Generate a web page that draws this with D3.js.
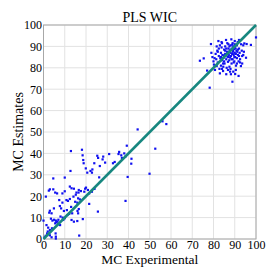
<!DOCTYPE html>
<html>
<head>
<meta charset="utf-8">
<script src="https://cdn.jsdelivr.net/npm/d3@7"></script>
<style>
  html, body { margin: 0; padding: 0; background: #fff; }
  text { font-family: 'Liberation Serif', 'DejaVu Serif', serif; fill: #000; }
</style>
</head>
<body>
<svg id="chart" width="277" height="277"></svg>
<script>
// --- data ---
const title = 'PLS WIC';
const xLabel = 'MC Experimental';
const yLabel = 'MC Estimates';
const xTicks = [0, 10, 20, 30, 40, 50, 60, 70, 80, 90, 100];
const yTicks = [0, 10, 20, 30, 40, 50, 60, 70, 80, 90, 100];

// [experimental, estimate] pairs, low group
const lowGroup = [
  [12.9, 41.1], [18.1, 41.7], [44.3, 51.2], [56.0, 55.0], [57.8, 53.7], [52.6, 42.2],
  [39.2, 43.6], [49.9, 30.5], [39.6, 29.0], [38.6, 17.8], [25.6, 12.8], [16.8, 1.6],
  [35.6, 40.7], [35.3, 39.7], [36.6, 39.1], [36.9, 37.9], [41.4, 37.5], [41.3, 35.2],
  [38.5, 38.5], [30.9, 39.7], [28.1, 38.5], [27.8, 37.2], [25.3, 38.9], [25.7, 37.9],
  [29.0, 35.7], [32.7, 35.4], [26.5, 34.1], [23.9, 35.4], [18.7, 36.9], [18.9, 35.4],
  [18.4, 39.1], [22.1, 31.8], [20.6, 31.0], [22.8, 31.0], [19.9, 33.0], [26.2, 28.8],
  [12.7, 31.8], [10.0, 28.7], [4.6, 28.3], [3.0, 23.2], [2.5, 22.6], [1.1, 19.8],
  [0.0, 8.6], [4.6, 23.2], [5.5, 21.7], [6.4, 21.3], [8.9, 21.3], [10.0, 22.3],
  [12.4, 24.5], [13.2, 23.7], [14.3, 23.5], [15.5, 21.7], [15.2, 20.7], [16.5, 21.7],
  [16.6, 22.9], [17.6, 22.4], [19.2, 22.1], [19.6, 23.5], [20.9, 22.9], [21.5, 21.3],
  [22.8, 22.1], [24.0, 23.4], [21.5, 16.4], [10.8, 18.2], [11.5, 17.8], [12.4, 18.7],
  [7.4, 18.2], [8.9, 17.0], [7.7, 15.4], [8.3, 14.3], [9.6, 13.1], [4.9, 14.3],
  [3.0, 13.2], [2.7, 12.3], [3.8, 12.0], [5.0, 9.0], [4.2, 8.6], [5.8, 8.6],
  [6.6, 8.1], [5.5, 7.3], [6.9, 6.9], [7.8, 6.5], [9.3, 8.9], [10.0, 9.7],
  [12.1, 11.7], [11.3, 11.2], [13.5, 12.0], [13.2, 8.9], [14.3, 8.1], [15.9, 8.4],
  [16.6, 14.0], [16.3, 12.0], [16.0, 13.1], [18.5, 9.3], [1.4, 6.5], [2.2, 5.3],
  [3.0, 4.2], [1.7, 2.6], [3.0, 1.7], [5.7, 2.6], [5.8, 1.1], [5.8, 0.2],
  [3.8, 0.8], [0.6, 0.8], [17.1, 18.5], [14.9, 17.4], [15.9, 17.0], [16.3, 19.0],
  [14.1, 19.8], [2.0, 3.5], [4.0, 5.0], [6.0, 7.8], [8.0, 10.5], [9.0, 10.0],
  [11.0, 13.5], [13.0, 15.0], [7.0, 9.0], [3.5, 9.5], [1.0, 1.5], [20.0, 24.0],
  [23.0, 32.5], [33.5, 36.0], [38.0, 40.0]
];

// [experimental, estimate] pairs, high group
const highGroup = [
  [73.6, 83.3], [75.4, 84.4], [77.0, 78.7], [78.2, 70.7], [78.8, 91.1], [79.5, 85.0],
  [80.0, 83.0], [80.2, 81.5], [80.7, 79.0], [81.0, 86.5], [81.3, 84.0], [81.5, 80.8],
  [81.8, 88.0], [82.0, 82.5], [82.3, 92.5], [82.5, 85.5], [82.8, 79.5], [83.0, 77.4],
  [83.2, 84.5], [83.5, 87.0], [83.5, 81.0], [83.8, 89.5], [84.0, 83.5], [84.2, 86.0],
  [84.5, 78.5], [84.6, 80.5], [84.8, 84.8], [85.0, 88.5], [85.2, 82.0], [85.5, 86.5],
  [85.5, 90.0], [85.9, 93.0], [86.0, 84.0], [86.2, 80.0], [86.4, 87.5], [86.6, 85.2],
  [86.8, 82.8], [87.0, 89.0], [87.0, 91.0], [87.2, 86.0], [87.4, 83.5], [87.6, 88.0],
  [87.8, 78.2], [87.8, 84.8], [88.0, 87.0], [88.0, 90.5], [88.2, 85.5], [88.4, 93.3],
  [88.5, 82.0], [88.6, 88.5], [88.8, 86.5], [88.9, 73.5], [89.0, 89.5], [89.0, 84.0],
  [89.2, 87.8], [89.3, 78.2], [89.4, 90.0], [89.5, 86.0], [89.6, 88.8], [89.8, 83.0],
  [90.0, 87.0], [90.0, 91.0], [90.2, 77.1], [90.2, 85.0], [90.4, 89.0], [90.5, 86.5],
  [90.6, 81.0], [90.8, 88.0], [91.0, 90.5], [91.0, 84.5], [91.2, 87.5], [91.4, 92.0],
  [91.5, 86.0], [91.8, 76.2], [91.8, 83.0], [92.0, 93.0], [92.0, 89.0], [92.3, 87.0],
  [92.5, 84.0], [92.9, 80.8], [93.0, 91.0], [93.3, 88.0], [93.5, 85.5], [94.0, 90.5],
  [94.3, 87.5], [94.5, 91.4], [95.3, 84.7], [95.6, 91.1], [97.6, 90.7], [100.0, 94.2],
  [82.0, 87.5], [83.0, 90.5], [84.0, 91.5], [85.0, 83.0], [86.0, 89.0], [86.5, 91.5],
  [87.5, 80.5], [88.0, 79.5], [88.5, 84.0], [89.0, 91.5], [89.5, 82.5], [90.0, 92.5],
  [90.5, 79.0], [91.0, 82.0], [92.0, 85.5], [86.0, 77.0], [84.5, 82.0], [83.5, 85.0],
  [85.5, 88.0], [87.0, 85.0], [88.0, 88.5], [89.0, 86.8], [90.0, 89.5], [87.5, 90.0],
  [86.5, 86.5], [85.0, 85.8], [88.8, 90.8], [89.8, 85.0], [91.5, 88.5], [80.5, 84.5],
  [81.5, 90.0], [79.0, 87.0], [92.5, 82.5], [93.5, 82.0], [94.0, 86.0], [84.0, 79.5],
  [86.8, 79.0], [88.2, 77.0], [82.5, 89.0], [83.8, 92.0]
];

// --- chart ---
const svg = d3.select('#chart');
const margin = { top: 25, right: 21, bottom: 38, left: 43.5 };
const width = +svg.attr('width') - margin.left - margin.right;
const height = +svg.attr('height') - margin.top - margin.bottom;
const g = svg.append('g').attr('transform', `translate(${margin.left},${margin.top})`);

const x = d3.scaleLinear().domain([0, 100]).range([0, width]);
const y = d3.scaleLinear().domain([0, 100]).range([height, 0]);

// grid
g.append('g')
  .selectAll('line')
  .data(xTicks)
  .join('line')
  .attr('x1', d => x(d)).attr('x2', d => x(d))
  .attr('y1', 0).attr('y2', height)
  .attr('stroke', '#e2e2e2').attr('stroke-width', 1);
g.append('g')
  .selectAll('line')
  .data(yTicks)
  .join('line')
  .attr('y1', d => y(d)).attr('y2', d => y(d))
  .attr('x1', 0).attr('x2', width)
  .attr('stroke', '#e2e2e2').attr('stroke-width', 1);

// frame
g.append('rect')
  .attr('width', width).attr('height', height)
  .attr('fill', 'none').attr('stroke', '#a8a8a8').attr('stroke-width', 1);

// axes (labels only)
const xAxis = g.append('g')
  .attr('transform', `translate(0,${height})`)
  .call(d3.axisBottom(x).tickValues(xTicks).tickSize(0).tickPadding(1));
const yAxis = g.append('g')
  .call(d3.axisLeft(y).tickValues(yTicks).tickSize(0).tickPadding(1.5));
[xAxis, yAxis].forEach(a => {
  a.select('.domain').remove();
  a.selectAll('text')
    .attr('font-family', "'Liberation Serif', serif")
    .attr('font-size', 12)
    .attr('fill', '#000');
});

// points
const pts = lowGroup.concat(highGroup);
g.append('g')
  .selectAll('rect')
  .data(pts)
  .join('rect')
  .attr('x', d => x(d[0]) - 1.1)
  .attr('y', d => y(d[1]) - 1.1)
  .attr('width', 2.2)
  .attr('height', 2.2)
  .attr('fill', '#1010f0');

// identity line
g.append('line')
  .attr('x1', x(0)).attr('y1', y(0))
  .attr('x2', x(100)).attr('y2', y(100))
  .attr('stroke', '#17877f')
  .attr('stroke-width', 2.5);

// titles
svg.append('text')
  .attr('x', margin.left + width / 2).attr('y', 22)
  .attr('text-anchor', 'middle').attr('font-size', 14)
  .text(title);
svg.append('text')
  .attr('x', margin.left + width / 2).attr('y', 264)
  .attr('text-anchor', 'middle').attr('font-size', 13.5)
  .text(xLabel);
svg.append('text')
  .attr('transform', `translate(22.5,${margin.top + height / 2}) rotate(-90)`)
  .attr('text-anchor', 'middle').attr('font-size', 14)
  .text(yLabel);
</script>
</body>
</html>
